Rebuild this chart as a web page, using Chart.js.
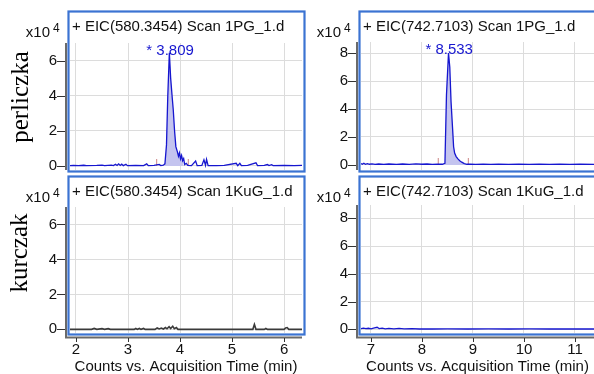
<!DOCTYPE html>
<html>
<head>
<meta charset="utf-8">
<script src="https://cdn.jsdelivr.net/npm/chart.js@4.4.1/dist/chart.umd.min.js"></script>
<style>
  html, body { margin: 0; padding: 0; background: #fff; width: 594px; height: 374px; overflow: hidden; }
  .panel { position: absolute; }
</style>
</head>
<body>
<div class="panel" style="left:0;top:0"><canvas id="pg580" width="306" height="175"></canvas></div>
<div class="panel" style="left:306px;top:0"><canvas id="pg742" width="288" height="175"></canvas></div>
<div class="panel" style="left:0;top:175px"><canvas id="kug580" width="306" height="199"></canvas></div>
<div class="panel" style="left:306px;top:175px"><canvas id="kug742" width="288" height="199"></canvas></div>
<script>
// ── data (intensity in x10^4 counts, time in min) ──
const TIME_PG_580 = [1.885, 1.95, 2.05, 2.15, 2.2, 2.4, 2.5, 2.55, 2.68, 2.72, 2.76, 2.79, 2.82, 2.85, 2.88, 2.91, 2.96, 2.99, 3.15, 3.3, 3.36, 3.39, 3.5, 3.6, 3.63, 3.68,
  3.71, 3.74, 3.765, 3.795, 3.82, 3.85, 3.87, 3.895, 3.92, 3.95, 3.97, 3.99, 4.01, 4.03, 4.05, 4.07, 4.09, 4.12, 4.15,
  4.22, 4.3, 4.33, 4.42, 4.46, 4.49, 4.51, 4.54, 4.7, 4.85, 5.08, 5.11, 5.15, 5.18, 5.3, 5.46, 5.49, 5.62, 5.68, 5.71, 5.76, 5.79, 6.0, 6.2, 6.345];
const INT_PG_580 = [0.02, 0.03, 0.02, 0.04, 0.02, 0.03, 0.05, 0.02, 0.05, 0.02, 0.1, 0.03, 0.12, 0.03, 0.1, 0.02, 0.1, 0.02, 0.03, 0.02, 0.12, 0.02, 0.03, 0.09, 0.02, 0.04,
  0.12, 1.2, 4.0, 6.45, 5.0, 3.9, 3.2, 2.0, 1.1, 0.8, 0.55, 0.75, 0.4, 0.6, 0.3, 0.42, 0.08, 0.15, 0.03,
  0.02, 0.28, 0.02, 0.03, 0.35, 0.04, 0.38, 0.02, 0.02, 0.03, 0.15, 0.02, 0.15, 0.02, 0.03, 0.18, 0.02, 0.03, 0.08, 0.02, 0.07, 0.02, 0.03, 0.02, 0.03];

const TIME_PG_742 = [6.804, 6.83, 6.86, 6.89, 6.93, 6.97, 7.02, 7.08, 7.15, 7.25, 7.35, 7.5, 7.62, 7.75, 7.88, 8.0, 8.1, 8.2, 8.3, 8.4,
  8.45, 8.48, 8.52, 8.545, 8.57, 8.6, 8.62, 8.64, 8.67, 8.7, 8.74, 8.78, 8.83, 8.88,
  8.95, 9.05, 9.2, 9.35, 9.5, 9.7, 9.9, 10.1, 10.3, 10.5, 10.7, 10.9, 11.1, 11.373];
const INT_PG_742 = [0.1, 0.05, 0.12, 0.05, 0.1, 0.05, 0.08, 0.04, 0.07, 0.04, 0.07, 0.04, 0.07, 0.04, 0.08, 0.05, 0.07, 0.04, 0.06, 0.05,
  0.12, 5.0, 8.0, 7.0, 4.5, 2.6, 1.3, 0.85, 0.6, 0.45, 0.3, 0.2, 0.1, 0.05,
  0.06, 0.04, 0.06, 0.04, 0.06, 0.04, 0.05, 0.04, 0.06, 0.04, 0.05, 0.04, 0.05, 0.04];

const TIME_KUG_580 = [1.885, 2.3, 2.35, 2.4, 2.5, 2.55, 2.62, 2.66, 3.12, 3.15, 3.18, 3.22, 3.25, 3.3, 3.33, 3.52, 3.56, 3.6, 3.64, 3.68, 3.72, 3.75, 3.79, 3.82, 3.86, 3.89, 3.93, 3.96,
  5.4, 5.43, 5.46, 5.62, 5.65, 5.68, 6.0, 6.03, 6.06, 6.09, 6.345];
const INT_KUG_580 = [0, 0, 0.05, 0, 0.04, 0, 0.04, 0, 0, 0.05, 0, 0.05, 0, 0.05, 0, 0, 0.08, 0.02, 0.07, 0.02, 0.1, 0.03, 0.15, 0.05, 0.18, 0.04, 0.1, 0,
  0, 0.28, 0, 0, 0.05, 0, 0, 0.08, 0.1, 0, 0];

const TIME_KUG_742 = [6.804, 6.85, 6.9, 6.95, 7.0, 7.05, 7.12, 7.16, 7.22, 7.28, 7.35, 7.45, 7.55, 7.65, 7.8, 7.95, 8.2, 8.5, 8.9, 9.3, 9.7, 10.1, 10.5, 10.9, 11.373];
const INT_KUG_742 = [0.05, 0.08, 0.04, 0.07, 0.03, 0.08, 0.14, 0.05, 0.08, 0.03, 0.06, 0.03, 0.06, 0.03, 0.05, 0.02, 0.02, 0.03, 0.02, 0.03, 0.02, 0.03, 0.02, 0.02, 0.02];

// integrated peak windows, integration marks and labelled retention times
const PEAK_WIN_580 = [3.71, 4.07];
const PEAK_WIN_742 = [8.45, 8.86];
const MARKS_580 = [3.55, 4.16];
const MARKS_742 = [8.32, 8.91];
const PEAK_RT_580 = 3.809;
const PEAK_RT_742 = 8.533;

// tick labels
const X_TICKS_580 = [2, 3, 4, 5, 6];
const X_TICKS_742 = [7, 8, 9, 10, 11];
const Y_TICKS_580 = [0, 2, 4, 6];
const Y_TICKS_742 = [0, 2, 4, 6, 8];

const BLUE = '#1616cf';
const FILL = '#c4c4ef';
const BOX = '#3b73d2';
const GRID = '#dcdcdc';
const SANS = '"Liberation Sans", Arial, sans-serif';
const SERIF = '"Liberation Serif", "Times New Roman", serif';

const toPts = (ts, vs) => ts.map((t, i) => ({ x: t, y: vs[i] }));
const inWin = (pts, w) => pts.filter(p => p.x >= w[0] && p.x <= w[1]);
const markPts = (ms, h) => ms.flatMap(m => [{ x: m, y: 0 }, { x: m, y: h }, { x: m, y: null }]);

// box, axis lines, header and extra texts
const panelDecor = {
  id: 'panelDecor',
  afterDraw(chart, args, o) {
    const { ctx, chartArea: a, scales: { x, y } } = chart;
    const seg = (x1, y1, x2, y2) => { ctx.beginPath(); ctx.moveTo(x1, y1); ctx.lineTo(x2, y2); ctx.stroke(); };
    ctx.save();
    // y axis line + tick dashes
    ctx.strokeStyle = '#6a6a6a'; ctx.lineWidth = 2;
    seg(a.left - 4, a.top, a.left - 4, a.bottom + (o.xAxis ? 5 : 0));
    ctx.strokeStyle = '#333'; ctx.lineWidth = 1;
    y.ticks.forEach(t => {
      const py = Math.round(y.getPixelForValue(t.value)) + 0.5;
      seg(a.left - 13, py, a.left - 5, py);
    });
    if (o.xAxis) {
      ctx.strokeStyle = '#6a6a6a'; ctx.lineWidth = 2;
      seg(a.left - 5, a.bottom + 4.5, a.right, a.bottom + 4.5);
      ctx.strokeStyle = '#333'; ctx.lineWidth = 1;
      x.ticks.forEach(t => {
        const px = Math.round(x.getPixelForValue(t.value)) + 0.5;
        seg(px, a.bottom + 5, px, a.bottom + 9);
      });
    }
    // panel box
    ctx.strokeStyle = BOX; ctx.lineWidth = 2.2;
    ctx.strokeRect(a.left - 1.5, o.boxTop, a.right + 2.5 - (a.left - 1.5), a.bottom + 1.5 - o.boxTop);
    // header
    ctx.fillStyle = '#111';
    ctx.font = '15px ' + SANS;
    ctx.textBaseline = 'middle';
    ctx.textAlign = 'left';
    ctx.fillText(o.header, a.left + 2, o.boxTop + 15);
    // x10^4
    ctx.textAlign = 'right';
    ctx.fillText('x10', a.left - 20, o.boxTop + 21);
    ctx.font = '12px ' + SANS;
    ctx.textAlign = 'left';
    ctx.fillText('4', a.left - 17, o.boxTop + 17);
    // peak label
    if (o.peak) {
      ctx.fillStyle = BLUE;
      ctx.font = '15px ' + SANS;
      ctx.textAlign = 'center';
      ctx.fillText('* ' + o.peak.toFixed(3), x.getPixelForValue(o.peak), a.top + 8);
    }
    // sample label
    if (o.side) {
      ctx.translate(o.side.x, o.side.y);
      ctx.rotate(-Math.PI / 2);
      ctx.fillStyle = '#000';
      ctx.font = '25px ' + SERIF;
      ctx.textAlign = 'center';
      ctx.fillText(o.side.text, 0, 0);
    }
    ctx.restore();
  }
};

function makePanel(id, cfg) {
  const trace = toPts(cfg.times, cfg.values);
  const datasets = [{
    data: trace, borderColor: cfg.color, borderWidth: cfg.lineWidth || 1.3,
    pointRadius: 0, tension: 0, fill: false, order: 0,
  }];
  if (cfg.win) {
    datasets.push({
      data: markPts(cfg.marks, cfg.markH), borderColor: '#d49a9a', borderWidth: 1.2,
      pointRadius: 0, spanGaps: false, fill: false, order: 1,
    });
    datasets.push({
      data: inWin(trace, cfg.win), borderWidth: 0, backgroundColor: FILL,
      pointRadius: 0, tension: 0, fill: 'origin', order: 2,
    });
  }
  const canvas = document.getElementById(id);
  const noPad = s => { s.paddingTop = 0; s.paddingBottom = 0; s.paddingLeft = 0; s.paddingRight = 0; };
  return new Chart(canvas, {
    type: 'line',
    data: { datasets },
    plugins: [panelDecor],
    options: {
      responsive: false,
      animation: false,
      events: [],
      layout: {
        padding: { left: 0, top: cfg.plot.top, right: canvas.width - cfg.plot.right, bottom: 0 },
      },
      plugins: {
        legend: { display: false },
        tooltip: { enabled: false },
        panelDecor: {
          boxTop: cfg.boxTop, header: cfg.header, peak: cfg.peak,
          side: cfg.side, xAxis: cfg.xAxis,
        },
      },
      scales: {
        x: {
          type: 'linear', min: cfg.xRange[0], max: cfg.xRange[1],
          afterBuildTicks: s => { s.ticks = cfg.xTicks.map(v => ({ value: v })); },
          afterFit: s => { s.height = canvas.height - cfg.plot.bottom; noPad(s); },
          grid: { color: GRID, drawTicks: false },
          border: { display: false },
          ticks: { display: !!cfg.xAxis, padding: 8, color: '#111', font: { size: 15, family: SANS } },
          title: {
            display: !!cfg.xAxis, text: 'Counts vs. Acquisition Time (min)', color: '#111',
            font: { size: 15, family: SANS, lineHeight: 1 }, padding: { top: 0, bottom: 0 },
          },
        },
        y: {
          type: 'linear', min: cfg.yRange[0], max: cfg.yRange[1],
          afterBuildTicks: s => { s.ticks = cfg.yTicks.map(v => ({ value: v })); },
          afterFit: s => { s.width = cfg.plot.left; noPad(s); },
          grid: { color: GRID, drawTicks: false },
          border: { display: false },
          ticks: { padding: 13, color: '#111', font: { size: 15, family: SANS } },
        },
      },
    },
  });
}

makePanel('pg580', {
  times: TIME_PG_580, values: INT_PG_580, color: BLUE,
  win: PEAK_WIN_580, marks: MARKS_580, markH: 0.4, peak: PEAK_RT_580,
  header: '+ EIC(580.3454) Scan 1PG_1.d',
  xRange: [1.885, 6.345], yRange: [-0.23, 7.0], xTicks: X_TICKS_580, yTicks: Y_TICKS_580,
  plot: { left: 70, top: 43, right: 302, bottom: 170 }, boxTop: 11.5,
  side: { text: 'perliczka', x: 21, y: 97 },
});

makePanel('pg742', {
  times: TIME_PG_742, values: INT_PG_742, color: BLUE,
  win: PEAK_WIN_742, marks: MARKS_742, markH: 0.5, peak: PEAK_RT_742,
  header: '+ EIC(742.7103) Scan 1PG_1.d',
  xRange: [6.804, 11.373], yRange: [-0.36, 8.79], xTicks: X_TICKS_742, yTicks: Y_TICKS_742,
  plot: { left: 55, top: 42, right: 288, bottom: 170 }, boxTop: 11.5,
});

makePanel('kug580', {
  times: TIME_KUG_580, values: INT_KUG_580, color: '#3a3a3a', lineWidth: 1.6,
  header: '+ EIC(580.3454) Scan 1KuG_1.d',
  xRange: [1.885, 6.345], yRange: [-0.21, 7.0], xTicks: X_TICKS_580, yTicks: Y_TICKS_580,
  plot: { left: 70, top: 32, right: 302, bottom: 158 }, boxTop: 1.5, xAxis: true,
  side: { text: 'kurczak', x: 20, y: 78 },
});

makePanel('kug742', {
  times: TIME_KUG_742, values: INT_KUG_742, color: BLUE,
  header: '+ EIC(742.7103) Scan 1KuG_1.d',
  xRange: [6.804, 11.373], yRange: [-0.27, 8.96], xTicks: X_TICKS_742, yTicks: Y_TICKS_742,
  plot: { left: 55, top: 30, right: 288, bottom: 158 }, boxTop: 1.5, xAxis: true,
});
</script>
</body>
</html>
